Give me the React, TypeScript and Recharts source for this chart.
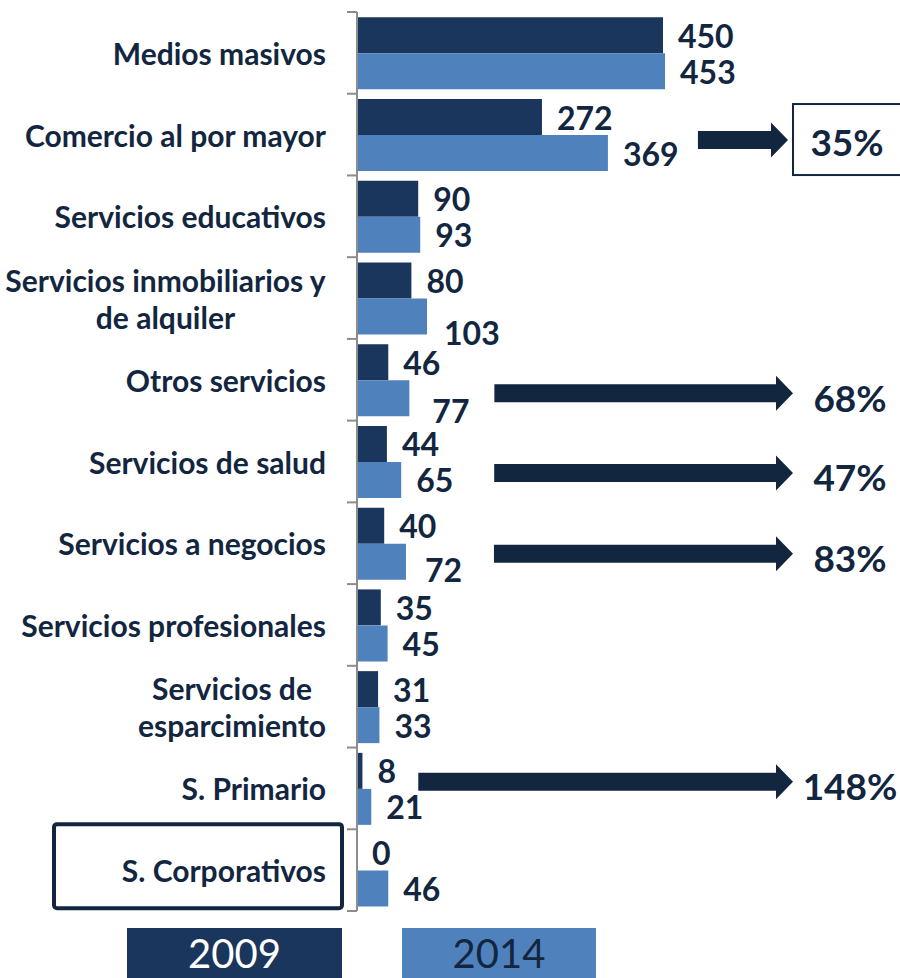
import React from 'react';
import { BarChart, Bar, XAxis, YAxis, LabelList } from 'recharts';

const categories = [
  'Medios masivos',
  'Comercio al por mayor',
  'Servicios educativos',
  'Servicios inmobiliarios y\nde alquiler',
  'Otros servicios',
  'Servicios de salud',
  'Servicios a negocios',
  'Servicios profesionales',
  'Servicios de\nesparcimiento',
  'S. Primario',
  'S. Corporativos',
];
const values2009 = [450, 272, 90, 80, 46, 44, 40, 35, 31, 8, 0];
const values2014 = [453, 369, 93, 103, 77, 65, 72, 45, 33, 21, 46];
const growthLabels = ['', '35%', '', '', '68%', '47%', '83%', '', '', '148%', ''];
const seriesNames = ['2009', '2014'];

const data = categories.map((name, i) => ({
  name,
  v2009: values2009[i],
  v2014: values2014[i],
}));

const W = 900;
const H = 978;
const PLOT_TOP = 12;
const PLOT_BOTTOM = 911;
const AXIS_X = 357;
const BAND = (PLOT_BOTTOM - PLOT_TOP) / categories.length;
const DARK = '#1B365D';
const LIGHT = '#4F81BD';
const TEXT = '#13263F';
const AXIS_GRAY = '#8C8C8C';
const FONT = "Lato, 'Open Sans', sans-serif";

let measureCtx: CanvasRenderingContext2D | null = null;
function measure(text: string, font: string) {
  if (!measureCtx) {
    const c = document.createElement('canvas');
    measureCtx = c.getContext('2d');
  }
  if (!measureCtx) return text.length * 14;
  measureCtx.font = font;
  return measureCtx.measureText(text).width;
}

const CAT_SIZE = 30;
const CAT_RIGHT = 326;

const CategoryTick = (props: any) => {
  const { y, payload, index } = props;
  const label: string = String(payload.value);
  const lines = label.split('\n');
  const font = `bold ${CAT_SIZE}px ${FONT}`;
  const els: any[] = [];
  if (lines.length === 1) {
    els.push(
      <text key="t" x={CAT_RIGHT} y={y} textAnchor="end" dominantBaseline="central"
        fontFamily={FONT} fontWeight="bold" fontSize={CAT_SIZE} fill={TEXT}>{label}</text>
    );
  } else {
    const maxW = Math.max(...lines.map((l) => measure(l, font)));
    const cx = CAT_RIGHT - maxW / 2;
    const lh = 37;
    lines.forEach((l, k) => {
      els.push(
        <text key={'t' + k} x={cx} y={y + (k - (lines.length - 1) / 2) * lh} textAnchor="middle"
          dominantBaseline="central" fontFamily={FONT} fontWeight="bold" fontSize={CAT_SIZE} fill={TEXT}>{l}</text>
      );
    });
  }
  const boxed = index === categories.length - 1;
  return (
    <g>
      <line x1={AXIS_X - 10} x2={AXIS_X} y1={y - BAND / 2} y2={y - BAND / 2} stroke={AXIS_GRAY} strokeWidth={2} />
      {index === categories.length - 1 && (
        <line x1={AXIS_X - 10} x2={AXIS_X} y1={y + BAND / 2} y2={y + BAND / 2} stroke={AXIS_GRAY} strokeWidth={2} />
      )}
      {boxed && (
        <rect x={54} y={y - 46} width={288} height={84} rx={3} fill="none" stroke={TEXT} strokeWidth={4} />
      )}
      {els}
    </g>
  );
};

const VAL_SIZE = 32;
const labelNudge2014: Record<number, [number, number]> = { 3: [2, 16], 4: [8, 12], 6: [4, 8] };

const valueText = (x: number, y: number, value: any, key?: string) => (
  <text key={key} x={x} y={y} dominantBaseline="central" textAnchor="start" fontFamily={FONT} fontWeight="bold"
    fontSize={VAL_SIZE} fill={TEXT}>{value}</text>
);

const makeValueLabel = (nudge: Record<number, [number, number]>) => (props: any) => {
  const { x, y, width, height, value, index } = props;
  const [dx, dy] = nudge[index] || [0, 0];
  return valueText(Number(x) + Number(width) + 15 + dx, Number(y) + Number(height) / 2 + dy, value);
};

// Labels for 2014 bars, plus any 2009 label whose bar has zero length (drawn above the 2014 bar)
const label2014 = makeValueLabel(labelNudge2014);
const Label2014WithZero = (props: any) => {
  const { x, y, height, index } = props;
  const v09 = values2009[index];
  return (
    <g>
      {label2014(props)}
      {v09 === 0 && valueText(Number(x) + 15, Number(y) - Number(height) / 2, v09)}
    </g>
  );
};

const arrowNudge: Record<number, number> = { 1: 5, 4: 13, 5: 11, 6: 10, 9: -7 };
const arrowStartGap: Record<number, number> = { 1: 90, 4: 85, 5: 93, 6: 88, 9: 47 };

const ArrowLabel = (props: any) => {
  const { x, y, width, index } = props;
  const g = growthLabels[index];
  if (!g) return null;
  const bandCenter = Number(y);
  const cy = bandCenter + (arrowNudge[index] || 0);
  const barEnd = Number(x) + Number(width);
  const start = barEnd + (arrowStartGap[index] || 88);
  const boxed = index === 1;
  const tip = boxed ? 788 : 793;
  const headLen = 17;
  const sh = 9;
  const hh = 17.5;
  const d = `M${start},${cy - sh} L${tip - headLen},${cy - sh} L${tip - headLen},${cy - hh} L${tip},${cy} L${tip - headLen},${cy + hh} L${tip - headLen},${cy + sh} L${start},${cy + sh} Z`;
  return (
    <g>
      <path d={d} fill={TEXT} />
      {boxed && <rect x={793} y={cy - 36} width={120} height={71} fill="#fff" stroke={TEXT} strokeWidth={2} />}
      <text x={boxed ? 847 : 850} y={cy + (boxed ? 1 : 4)} textAnchor="middle" dominantBaseline="central"
        fontFamily={FONT} fontWeight="bold" fontSize={37} fill={TEXT}>{g}</text>
    </g>
  );
};

const legendBox = (left: number, width: number, bg: string, color: string, label: string) => (
  <div style={{ position: 'absolute', left, top: 928, width, height: 50, background: bg,
    display: 'flex', alignItems: 'center', justifyContent: 'center' }}>
    <span style={{ fontFamily: FONT, fontSize: 40, color, lineHeight: '50px' }}>{label}</span>
  </div>
);

export default function App() {
  return (
    <div style={{ position: 'absolute', left: 0, top: 0, width: W, height: H, background: '#fff', overflow: 'hidden' }}>
      <BarChart
        width={W}
        height={H}
        data={data}
        layout="vertical"
        margin={{ top: PLOT_TOP, right: W - 697, bottom: H - PLOT_BOTTOM, left: 0 }}
        barCategoryGap="6.5%"
        barGap={0}
      >
        <XAxis type="number" domain={[0, 500]} hide />
        <YAxis
          type="category"
          dataKey="name"
          width={AXIS_X}
          axisLine={{ stroke: AXIS_GRAY, strokeWidth: 2 }}
          tickLine={false}
          tick={<CategoryTick />}
          interval={0}
        />
        <Bar dataKey="v2009" name={seriesNames[0]} fill={DARK} isAnimationActive={false}>
          <LabelList dataKey="v2009" content={makeValueLabel({})} />
        </Bar>
        <Bar dataKey="v2014" name={seriesNames[1]} fill={LIGHT} isAnimationActive={false}>
          <LabelList dataKey="v2014" content={Label2014WithZero} />
          <LabelList dataKey="v2014" content={ArrowLabel} />
        </Bar>
      </BarChart>
      {legendBox(127, 215, DARK, '#fff', seriesNames[0])}
      {legendBox(402, 194, LIGHT, TEXT, seriesNames[1])}
    </div>
  );
}
